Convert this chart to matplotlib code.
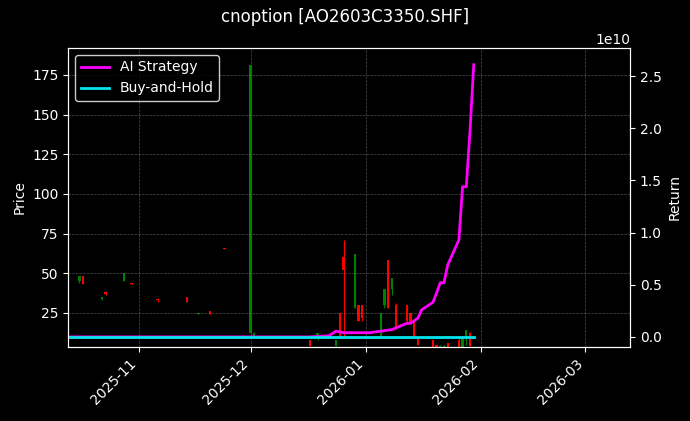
import matplotlib
matplotlib.use("Agg")
import matplotlib.pyplot as plt
import matplotlib.dates as mdates
import pandas as pd
import numpy as np

plt.style.use("dark_background")

# candles: date, open, high, low, close
c_dates = ["2025-10-16","2025-10-17","2025-10-22","2025-10-23","2025-10-28","2025-10-30",
           "2025-11-06","2025-11-14","2025-11-17","2025-11-20","2025-11-24","2025-12-01","2025-12-02",
           "2025-12-17","2025-12-19","2025-12-24","2025-12-25","2025-12-26","2025-12-29","2025-12-30",
           "2025-12-31","2026-01-05","2026-01-06","2026-01-07","2026-01-08","2026-01-09","2026-01-12",
           "2026-01-13","2026-01-14","2026-01-15","2026-01-19","2026-01-20","2026-01-21","2026-01-22",
           "2026-01-23","2026-01-26","2026-01-27","2026-01-28","2026-01-29"]
c_open  = [45,48,34,38,45,44,34,35,24,26,66,12,10, 8,10, 4,25,60,28,30,30,10,30,58,40,30,30,25,20,10, 8, 5, 2, 3, 6, 8, 2,10,12]
c_high  = [46,48,35,38,50,44,34,35,25,26,66,181,13, 8,12, 8,25,71,62,30,30,25,40,58,47,31,30,25,20,10, 8, 5, 5, 5, 6, 9,10,14,13]
c_low   = [44,43,33,36,45,43,32,32,24,24,65,10,10, 4, 8, 4,10,10,28,20,20,10,28,28,36,15,18,18,10, 5, 3, 2, 2, 2, 3, 3, 2, 5, 4]
c_close = [48,43,35,37,50,43,33,32,25,24,65,181,12, 4,12, 8,10,52,62,20,22,25,40,28,47,15,20,18,10, 5, 3, 2, 4, 4, 3, 3,10,14, 4]

r_dates = ["2025-10-13","2025-12-17","2025-12-22","2025-12-24","2025-12-26","2025-12-29","2026-01-02",
           "2026-01-08","2026-01-12","2026-01-13","2026-01-15","2026-01-16","2026-01-19","2026-01-20",
           "2026-01-21","2026-01-22","2026-01-23","2026-01-26","2026-01-27","2026-01-28","2026-01-29","2026-01-30"]
ai_ret = [0,0,0.01e10,0.055e10,0.04e10,0.04e10,0.04e10,0.07e10,0.13e10,0.13e10,0.18e10,0.26e10,
          0.33e10,0.42e10,0.52e10,0.52e10,0.69e10,0.93e10,1.44e10,1.44e10,1.98e10,2.61e10]
bh_dates = ["2025-10-13","2026-01-30"]
bh_ret = [0,0]

cd = pd.to_datetime(c_dates)
o, h, l, c = map(np.array, (c_open, c_high, c_low, c_close))
cols = np.where(c >= o, "#008000", "#ff0000")

fig, ax = plt.subplots(figsize=(6.9, 4.21), dpi=100)
fig.patch.set_facecolor("black")
ax.set_facecolor("black")
ax.vlines(cd, l, h, colors=cols, linewidth=0.8)
ax.bar(cd, np.maximum(np.abs(c - o), 0.5), bottom=np.minimum(o, c), width=0.6, color=cols)
ax.set_ylabel("Price")
ax.set_ylim(3.5, 192)
ax.set_yticks([25, 50, 75, 100, 125, 150, 175])
ax.grid(True, color="gray", linestyle="--", linewidth=0.5, alpha=0.6)

ax2 = ax.twinx()
ax2.plot(pd.to_datetime(r_dates), ai_ret, color="#ff00ff", linewidth=2, label="AI Strategy")
ax2.plot(pd.to_datetime(bh_dates), bh_ret, color="#00e5ee", linewidth=2, label="Buy-and-Hold")
ax2.set_ylim(-0.096e10, 2.77e10)
ax2.set_ylabel("Return")
ax2.legend(loc="upper left", facecolor="black", edgecolor="white")

ax.set_xlim(pd.Timestamp("2025-10-13"), pd.Timestamp("2026-03-13"))
ax.xaxis.set_major_locator(mdates.MonthLocator())
ax.xaxis.set_major_formatter(mdates.DateFormatter("%Y-%m"))
plt.setp(ax.get_xticklabels(), rotation=45, ha="right")
fig.suptitle("cnoption [AO2603C3350.SHF]", fontsize=12)
fig.subplots_adjust(left=0.099, right=0.913, top=0.886, bottom=0.176)
fig.savefig("out.png", dpi=100, facecolor="black")
